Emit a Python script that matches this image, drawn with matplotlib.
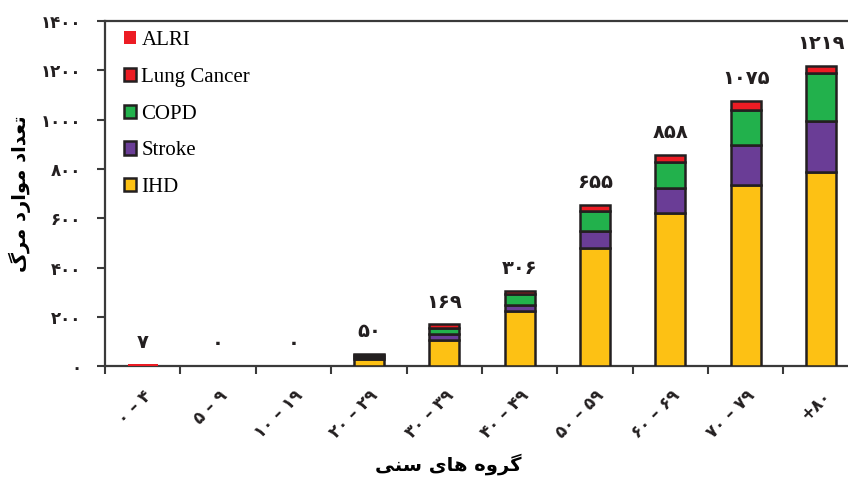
import numpy as np
import matplotlib
matplotlib.use('Agg')
import matplotlib.pyplot as plt
from matplotlib.patches import Patch

# age groups (persian digits)
age_groups = ['۰ – ۴', '۵ – ۹', '۱۰ – ۱۹', '۲۰ – ۲۹', '۳۰ – ۳۹',
              '۴۰ – ۴۹', '۵۰ – ۵۹', '۶۰ – ۶۹', '۷۰ – ۷۹', '+۸۰']

ihd = [0, 0, 0, 28, 108, 223, 479, 623, 736, 788]
stroke = [0, 0, 0, 8, 22, 27, 71, 100, 161, 207]
copd = [0, 0, 0, 8, 25, 44, 81, 104, 144, 194]
lung_cancer = [0, 0, 0, 6, 14, 12, 24, 31, 34, 30]
alri = [7, 0, 0, 0, 0, 0, 0, 0, 0, 0]
totals = ['۷', '۰', '۰', '۵۰', '۱۶۹', '۳۰۶', '۶۵۵', '۸۵۸', '۱۰۷۵', '۱۲۱۹']
total_vals = [7, 0, 0, 50, 169, 306, 655, 858, 1075, 1219]

y_ticks = [0, 200, 400, 600, 800, 1000, 1200, 1400]
y_tick_labels = ['۰', '۲۰۰', '۴۰۰', '۶۰۰', '۸۰۰', '۱۰۰۰', '۱۲۰۰', '۱۴۰۰']

# pre-shaped persian text (presentation forms, visual order)
ylabel = '\uFB92\uFEAE\uFEE3 \uFEA9\uFEAD\uFE8D\uFEEE\uFEE3 \uFEA9\uFE8D\uFEAA\uFECC\uFE97'
xlabel = '\uFBFD\uFEE8\uFEB3 \uFBFC\uFE8E\uFEEB \uFEE9\uFEED\uFEAE\uFB94'

c_ihd = '#fdc114'
c_stroke = '#6a3d96'
c_copd = '#22b14c'
c_lung = '#ec1c24'
c_alri = '#ec1c24'
edge = '#231f20'

fig = plt.figure(figsize=(8.48, 4.78), dpi=100)
ax = fig.add_axes([0.1238, 0.234, 0.889, 0.722])

x = np.arange(len(age_groups))
w = 0.4
bottom = np.zeros(len(x))
for vals, col in [(ihd, c_ihd), (stroke, c_stroke), (copd, c_copd), (lung_cancer, c_lung)]:
    v = np.array(vals, dtype=float)
    mask = v > 0
    ax.bar(x[mask], v[mask], w, bottom=bottom[mask], color=col,
           edgecolor=edge, linewidth=1.8, zorder=3)
    bottom += v
v = np.array(alri, dtype=float)
mask = v > 0
ax.bar(x[mask], v[mask], w, bottom=bottom[mask], color=c_alri, linewidth=0, zorder=3)

for xi, t, tv in zip(x, totals, total_vals):
    ax.annotate(t, (xi, tv), xytext=(0, 16), textcoords='offset points',
                ha='center', va='center', fontsize=14, fontweight='bold',
                color='#231f20', family='DejaVu Sans')

ax.set_xlim(-0.5, len(x) - 0.5)
ax.set_ylim(0, 1400)
ax.set_yticks(y_ticks)
ax.set_yticklabels(y_tick_labels, fontsize=12, fontweight='bold')
ax.set_xticks(x - 0.5, minor=False)
ax.set_xticklabels([])
ax.set_xticks(x, minor=True)
ax.set_xticklabels(age_groups, minor=True, rotation=45, ha='right',
                   rotation_mode='anchor', fontsize=12, fontweight='bold')
ax.tick_params(axis='x', which='minor', length=0, pad=15)
ax.tick_params(axis='x', which='major', direction='out', length=6, width=1.5, colors='#3a3a3a')
ax.tick_params(axis='y', direction='out', length=6, width=1.5, colors='#3a3a3a', pad=11)
for lbl in ax.get_yticklabels():
    lbl.set_color('#231f20')
for lbl in ax.get_xticklabels(minor=True):
    lbl.set_color('#231f20')

for s in ['left', 'bottom', 'top']:
    ax.spines[s].set_color('#3a3a3a')
    ax.spines[s].set_linewidth(1.6)
ax.spines['right'].set_visible(False)

ax.set_ylabel(ylabel, fontsize=14, fontweight='bold', va='center')
ax.yaxis.set_label_coords(-0.113, 0.5)
ax.set_xlabel(xlabel, fontsize=14, fontweight='bold', va='center')
ax.xaxis.set_label_coords(0.455, -0.285)

handles = [Patch(facecolor=c_alri, edgecolor='none', label='ALRI'),
           Patch(facecolor=c_lung, edgecolor=edge, linewidth=1.8, label='Lung Cancer'),
           Patch(facecolor=c_copd, edgecolor=edge, linewidth=1.8, label='COPD'),
           Patch(facecolor=c_stroke, edgecolor=edge, linewidth=1.8, label='Stroke'),
           Patch(facecolor=c_ihd, edgecolor=edge, linewidth=1.8, label='IHD')]
leg = ax.legend(handles=handles, loc='upper left', bbox_to_anchor=(0.0, 1.025),
                frameon=False, handlelength=0.6, handleheight=0.6,
                handletextpad=0.25, labelspacing=0.85,
                prop={'family': 'Liberation Serif', 'size': 15})

fig.savefig('out.png', dpi=100)
